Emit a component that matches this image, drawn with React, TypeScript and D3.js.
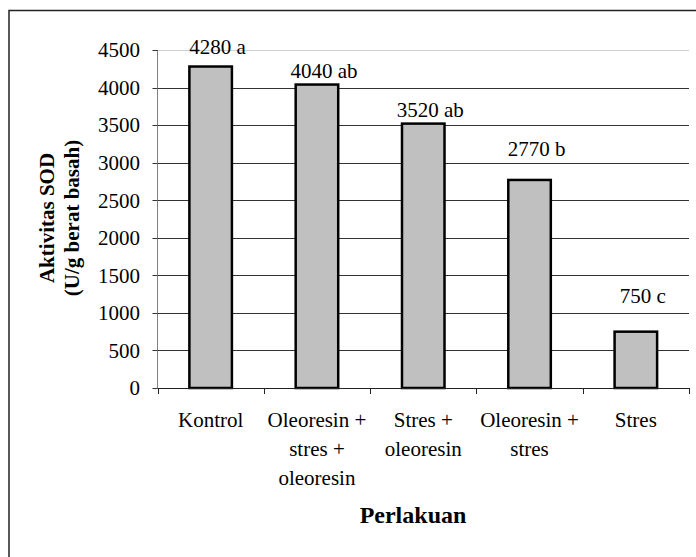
import React, { useRef, useEffect } from 'react';
import * as d3 from 'd3';

// categories (each label split into its printed lines)
const categories = ['Kontrol', 'Oleoresin + stres + oleoresin', 'Stres + oleoresin', 'Oleoresin + stres', 'Stres'];
const categoryLines = [
  ['Kontrol'],
  ['Oleoresin +', 'stres +', 'oleoresin'],
  ['Stres +', 'oleoresin'],
  ['Oleoresin +', 'stres'],
  ['Stres'],
];
const sodValues = [4280, 4040, 3520, 2770, 750];
const significance = ['a', 'ab', 'ab', 'b', 'c'];
const yTicks = [0, 500, 1000, 1500, 2000, 2500, 3000, 3500, 4000, 4500];

const WIDTH = 696;
const HEIGHT = 557;
const FONT = '"Liberation Serif", "Times New Roman", serif';

// how far each label sits above its bar (labels were hand placed in the source)
const labelLift = [13, 7, 7, 24, 29];

const App: React.FC = () => {
  const svgRef = useRef<SVGSVGElement>(null);

  useEffect(() => {
    if (!svgRef.current) return;
    const svg = d3.select(svgRef.current);
    svg.selectAll('*').remove();

    const left = 157.5, right = 689, top = 50, bottom = 388;

    const x = d3.scaleBand<string>()
      .domain(categories)
      .range([left, right])
      .padding(0);

    const y = d3.scaleLinear()
      .domain([0, 4500])
      .range([bottom, top]);

    const barW = x.bandwidth() * 0.4;

    // outer frame (right and bottom fall outside the picture)
    svg.append('rect')
      .attr('x', 9).attr('y', 10.5)
      .attr('width', WIDTH + 20).attr('height', HEIGHT + 20)
      .attr('fill', 'white')
      .attr('stroke', '#222').attr('stroke-width', 1.5);

    // gridlines
    svg.append('g')
      .selectAll('line')
      .data(yTicks.filter(d => d > 0))
      .join('line')
      .attr('x1', left).attr('x2', right)
      .attr('y1', d => Math.round(y(d)) + 0.5)
      .attr('y2', d => Math.round(y(d)) + 0.5)
      .attr('stroke', d => (d === 4500 ? '#d0d0d0' : '#333'))
      .attr('stroke-width', 1);

    // bars
    svg.append('g')
      .selectAll('rect')
      .data(sodValues)
      .join('rect')
      .attr('x', (_, i) => (x(categories[i]) || 0) + x.bandwidth() / 2 - barW / 2)
      .attr('y', d => y(d))
      .attr('width', barW)
      .attr('height', d => bottom - y(d))
      .attr('fill', '#c0c0c0')
      .attr('stroke', '#000')
      .attr('stroke-width', 2.5);

    // value labels
    svg.append('g')
      .selectAll('text')
      .data(sodValues)
      .join('text')
      .attr('x', (_, i) => (x(categories[i]) || 0) + x.bandwidth() / 2 + 7)
      .attr('y', (d, i) => y(d) - labelLift[i])
      .attr('text-anchor', 'middle')
      .attr('font-family', FONT)
      .attr('font-size', 21)
      .attr('fill', '#000')
      .text((d, i) => `${d} ${significance[i]}`);

    // y axis
    const yAxis = svg.append('g');
    yAxis.append('line')
      .attr('x1', left).attr('x2', left)
      .attr('y1', top).attr('y2', bottom)
      .attr('stroke', '#808080');
    yAxis.selectAll('line.tick')
      .data(yTicks)
      .join('line')
      .attr('class', 'tick')
      .attr('x1', left - 5).attr('x2', left)
      .attr('y1', d => Math.round(y(d)) + 0.5)
      .attr('y2', d => Math.round(y(d)) + 0.5)
      .attr('stroke', '#333');
    yAxis.selectAll('text')
      .data(yTicks)
      .join('text')
      .attr('x', 140)
      .attr('y', d => y(d))
      .attr('dy', '0.35em')
      .attr('text-anchor', 'end')
      .attr('font-family', FONT)
      .attr('font-size', 21)
      .text(d => String(d));

    // x axis
    const xAxis = svg.append('g');
    xAxis.append('line')
      .attr('x1', left).attr('x2', right)
      .attr('y1', bottom + 0.5).attr('y2', bottom + 0.5)
      .attr('stroke', '#222');
    const edges = [left, ...categories.map(c => (x(c) || 0) + x.bandwidth())];
    xAxis.selectAll('line.tick')
      .data(edges)
      .join('line')
      .attr('class', 'tick')
      .attr('x1', d => Math.round(d) + 0.5).attr('x2', d => Math.round(d) + 0.5)
      .attr('y1', bottom).attr('y2', bottom + 6)
      .attr('stroke', '#222');

    const catText = xAxis.selectAll('text')
      .data(categoryLines)
      .join('text')
      .attr('text-anchor', 'middle')
      .attr('font-family', FONT)
      .attr('font-size', 21);
    catText.each(function (lines, i) {
      const cx = (x(categories[i]) || 0) + x.bandwidth() / 2;
      d3.select(this)
        .selectAll('tspan')
        .data(lines)
        .join('tspan')
        .attr('x', cx)
        .attr('y', (_, j) => 427 + j * 29)
        .text(l => l);
    });

    // axis titles
    svg.append('text')
      .attr('x', 413)
      .attr('y', 523)
      .attr('text-anchor', 'middle')
      .attr('font-family', FONT)
      .attr('font-size', 24)
      .attr('font-weight', 'bold')
      .text('Perlakuan');

    const yTitle = svg.append('text')
      .attr('transform', 'translate(0,218) rotate(-90)')
      .attr('text-anchor', 'middle')
      .attr('font-family', FONT)
      .attr('font-size', 21)
      .attr('font-weight', 'bold');
    yTitle.append('tspan').attr('x', 0).attr('y', 54).text('Aktivitas SOD');
    yTitle.append('tspan').attr('x', 0).attr('y', 79).text('(U/g berat basah)');
  }, []);

  return (
    <svg
      ref={svgRef}
      width={WIDTH}
      height={HEIGHT}
      style={{ position: 'absolute', left: 0, top: 0, background: 'white' }}
    />
  );
};

export default App;
